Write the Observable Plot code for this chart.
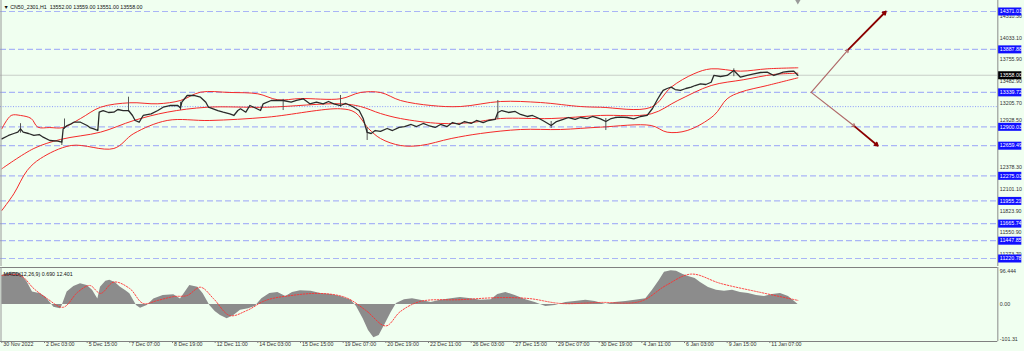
<!DOCTYPE html>
<html><head><meta charset="utf-8">
<script src="https://cdn.jsdelivr.net/npm/d3@7"></script>
<script src="https://cdn.jsdelivr.net/npm/@observablehq/plot@0.6"></script>
<style>
html,body{margin:0;padding:0;background:#f0fff0;overflow:hidden;width:1024px;height:351px}
#chart svg{display:block}
</style></head><body><div id="chart"></div>
<script>
// ---------- DATA ----------
const headerText = "▼ CN50_2301,H1  13552.00 13559.00 13551.00 13558.00";
const macdTitle = "MACD(12,26,9) 0.690 12.401";
const levelValues = [14371.01, 13887.88, 13339.72, 12900.03, 12659.49, 12275.03, 11955.21, 11665.74, 11447.85, 11220.78];
const dottedLevel = [13157.84];
const bidPrice = [13558.00];
const priceTicks = [14310.30, 14033.10, 13755.90, 13482.90, 13205.70, 12378.30, 12101.10, 11823.90, 11550.90, 11273.70];
const hiddenTick = [12928.50];
const macdTicks = [96.444, 0, -101.31];
const macdTickLabels = ["96.444", "0.00", "-101.31"];
const timeLabels = ["30 Nov 2022","2 Dec 03:00","5 Dec 15:00","7 Dec 07:00","8 Dec 19:00","12 Dec 11:00","14 Dec 03:00","15 Dec 15:00","19 Dec 07:00","20 Dec 19:00","22 Dec 11:00","26 Dec 03:00","27 Dec 15:00","29 Dec 07:00","30 Dec 19:00","4 Jan 11:00","6 Jan 03:00","9 Jan 15:00","11 Jan 07:00"];
const timeBars = [0,32,64,96,128,160,192,224,256,288,320,352,384,416,448,480,512,544,576];
const shiftMarker = [597];

// [bar, close]
const priceTrace = [[0,12747],[5,12790],[9,12815],[12,12832],[14,12875],[16,12832],[20,12815],[24,12790],[28,12802],[31,12768],[36,12726],[42,12717],[45,12704],[46,12875],[49,12917],[52,12939],[54,12959],[59,12959],[64,12917],[66,12891],[69,12875],[72,12853],[73,13087],[76,13108],[80,13083],[84,13087],[87,13121],[91,13108],[95,13108],[98,13045],[100,12981],[103,12959],[106,13045],[112,13066],[117,13108],[121,13150],[126,13172],[132,13172],[134,13140],[135,13214],[139,13300],[144,13300],[149,13278],[153,13214],[155,13150],[162,13108],[166,13087],[171,13066],[174,13045],[177,13108],[179,13130],[183,13087],[186,13172],[189,13150],[194,13108],[196,13194],[202,13236],[207,13236],[211,13236],[217,13214],[221,13236],[226,13258],[231,13194],[236,13214],[241,13194],[245,13223],[249,13194],[254,13172],[258,13198],[263,13159],[268,13108],[271,13006],[274,12828],[277,12815],[280,12853],[284,12841],[289,12879],[293,12853],[298,12892],[302,12904],[307,12930],[311,12904],[316,12943],[320,12917],[325,12892],[329,12930],[334,12904],[338,12955],[343,12930],[347,12968],[352,12943],[356,12981],[361,12955],[365,12981],[370,12994],[372,13083],[375,13108],[380,13083],[385,13096],[389,13058],[394,13032],[398,13045],[403,13006],[407,12968],[412,12917],[416,12968],[421,12994],[425,13019],[430,12994],[434,13019],[439,13006],[443,13032],[449,13002],[453,12968],[457,13006],[460,13019],[464,13023],[469,13019],[474,13002],[479,13032],[484,13045],[488,13134],[492,13258],[494,13313],[496,13364],[499,13389],[502,13406],[505,13376],[509,13364],[513,13389],[517,13406],[520,13427],[524,13449],[528,13440],[532,13469],[534,13555],[539,13542],[544,13555],[549,13619],[554,13533],[559,13555],[564,13576],[569,13593],[574,13597],[579,13555],[583,13580],[586,13597],[590,13606],[594,13610],[597,13558]];
// [bar, high, low]
const wickTrace = [[14,12940,12820],[45,12730,12662],[47,13000,12870],[95,13278,13090],[134,13214,13108],[211,13250,13108],[254,13300,13150],[274,12890,12726],[372,13236,12994],[412,12968,12879],[453,13006,12853],[549,13640,13540]];
// Bollinger bands [bar, value]
const bbUpper = [[0,12875],[7,13045],[14,13045],[22,13006],[27,12896],[36,12891],[46,12891],[59,13006],[74,13150],[96,13207],[117,13194],[134,13236],[149,13342],[171,13338],[192,13321],[207,13245],[224,13261],[254,13258],[269,13338],[284,13338],[299,13236],[322,13172],[344,13159],[374,13223],[404,13210],[434,13159],[449,13150],[487,13150],[502,13406],[519,13576],[532,13640],[554,13610],[574,13640],[597,13653]];
const bbMiddle = [[0,12365],[24,12624],[44,12739],[74,12832],[99,12981],[124,13087],[154,13150],[199,13150],[254,13194],[269,13159],[284,13070],[299,13006],[329,12943],[352,12955],[374,13006],[412,13006],[449,13045],[487,13066],[507,13236],[532,13427],[556,13500],[579,13568],[597,13584]];
const bbLower = [[0,11833],[9,12046],[19,12343],[29,12496],[52,12662],[84,12624],[99,12815],[124,12981],[156,12981],[199,13023],[254,13130],[265,13083],[275,12879],[284,12751],[299,12662],[314,12662],[337,12751],[359,12815],[389,12866],[419,12866],[449,12896],[487,12917],[499,12832],[514,12853],[534,13045],[544,13258],[554,13342],[574,13427],[597,13525]];
// arrows [bar1, price1, bar2, price2, leg]
const arrowSegments = [[607,13339.72,635,13887.88,1],[635,13887.88,663,14371.01,2],[607,13339.72,640,12900.03,1],[640,12900.03,657,12659.49,2]];
// MACD [bar, value]
const macdHist = [[0,84],[7,93],[14,89],[19,65],[23,36],[29,31],[33,21],[37,2],[39,-8],[44,-12],[45,-6],[49,36],[54,52],[59,60],[64,55],[68,41],[72,16],[74,50],[78,67],[81,70],[85,64],[89,50],[93,40],[96,31],[101,-3],[104,-11],[109,-3],[114,16],[121,26],[129,28],[134,16],[138,38],[141,55],[147,50],[151,31],[156,-3],[160,-20],[164,-32],[169,-41],[174,-32],[179,-17],[185,-12],[190,-6],[195,17],[201,32],[207,35],[213,23],[218,35],[224,40],[232,38],[239,32],[247,29],[254,23],[262,12],[266,-6],[271,-41],[275,-75],[279,-96],[283,-90],[287,-61],[292,-23],[296,3],[302,14],[308,17],[314,12],[322,6],[329,12],[337,17],[344,20],[352,17],[359,12],[367,14],[372,29],[378,35],[385,26],[393,14],[400,6],[408,-6],[415,-3],[423,6],[430,9],[438,12],[445,9],[453,0],[460,6],[468,9],[475,12],[483,17],[488,41],[493,69],[497,93],[502,98],[506,96],[511,87],[515,81],[520,75],[524,64],[530,49],[536,41],[542,38],[548,41],[554,35],[560,32],[566,26],[572,23],[578,29],[584,32],[590,23],[597,1]];
const macdSignal = [[0,84],[14,84],[24,46],[34,17],[46,-8],[57,36],[66,55],[74,32],[84,65],[96,46],[106,3],[117,12],[129,23],[139,26],[149,50],[159,16],[171,-32],[184,-17],[198,12],[217,26],[239,32],[258,20],[273,-17],[288,-62],[299,-20],[314,9],[344,14],[374,20],[396,17],[419,3],[449,6],[479,9],[498,55],[517,88],[539,61],[569,35],[597,12]];

// ---------- LAYOUT CONSTANTS ----------
const X_DOMAIN = [-1, 767];
const AXIS_BAR = 747;
const FONT = "Liberation Sans, Arial, sans-serif";
const FS = 5.3;

const main = Plot.plot({
  width: 1024, height: 266,
  marginTop: 2, marginBottom: 3, marginLeft: 0, marginRight: 0,
  x: {domain: X_DOMAIN, axis: null},
  y: {domain: [11157, 14485.8], axis: null},
  style: {background: "transparent", overflow: "visible", fontFamily: FONT},
  marks: [
    Plot.ruleY(levelValues, {x1: -1, x2: AXIS_BAR, stroke: "#a9b5f6", strokeWidth: 1.2, strokeDasharray: "6,3"}),
    Plot.ruleY(dottedLevel, {x1: -1, x2: AXIS_BAR, stroke: "#7f8ffa", strokeWidth: 0.9, strokeDasharray: "1,1.6"}),
    Plot.ruleY(bidPrice, {x1: -1, x2: AXIS_BAR, stroke: "#c8cec8", strokeWidth: 1}),
    Plot.line(bbUpper, {x: d => d[0], y: d => d[1], stroke: "#f52a2a", strokeWidth: 1, curve: "catmull-rom"}),
    Plot.line(bbMiddle, {x: d => d[0], y: d => d[1], stroke: "#f52a2a", strokeWidth: 1, curve: "catmull-rom"}),
    Plot.line(bbLower, {x: d => d[0], y: d => d[1], stroke: "#f52a2a", strokeWidth: 1, curve: "catmull-rom"}),
    Plot.ruleX(wickTrace, {x: d => d[0], y1: d => d[2], y2: d => d[1], stroke: "#555", strokeWidth: 1}),
    Plot.line(priceTrace, {x: d => d[0], y: d => d[1], stroke: "#2a2a2a", strokeWidth: 1.3}),
    Plot.arrow(arrowSegments, {x1: d => d[0], y1: d => d[1], x2: d => d[2], y2: d => d[3],
      stroke: d => d[4] === 1 ? "#b06a6a" : "#8b0000", strokeWidth: d => d[4] === 1 ? 1.2 : 1.8, headLength: 5}),
    Plot.ruleX([-1], {dx: 0.5, stroke: "#9a9a9a", insetTop: -2, insetBottom: -3}),
    Plot.ruleX([AXIS_BAR], {stroke: "#8a8a8a", insetTop: -2, insetBottom: -3}),
    Plot.dot(shiftMarker, {x: d => d, frameAnchor: "top", dy: -1, symbol: "triangle", r: 2, fill: "#9a9a9a", rotate: 180}),
    Plot.text(priceTicks, {x: AXIS_BAR, y: d => d, dx: 2, textAnchor: "start", text: d => d.toFixed(2), fill: "#333", fontSize: FS, fontFamily: FONT}),
    Plot.text(hiddenTick, {x: AXIS_BAR, y: d => d, dx: 2, dy: -4, textAnchor: "start", text: d => d.toFixed(2), fill: "#333", fontSize: FS, fontFamily: FONT}),
    Plot.ruleY(levelValues, {x1: AXIS_BAR + 0.6, x2: 765, stroke: "#1010ff", strokeWidth: 8}),
    Plot.text(levelValues, {x: AXIS_BAR, y: d => d, dx: 2, textAnchor: "start", text: d => d.toFixed(2), fill: "white", fontSize: FS, fontFamily: FONT}),
    Plot.ruleY(bidPrice, {x1: AXIS_BAR + 0.6, x2: 765, stroke: "#000", strokeWidth: 8}),
    Plot.text(bidPrice, {x: AXIS_BAR, y: d => d, dx: 2, textAnchor: "start", text: d => d.toFixed(2), fill: "white", fontSize: FS, fontFamily: FONT}),
    Plot.text([headerText], {frameAnchor: "top-left", dx: 3, dy: 3, textAnchor: "start", fill: "#111", fontSize: FS, fontFamily: FONT})
  ]
});

const macd = Plot.plot({
  width: 1024, height: 85,
  marginTop: 1, marginBottom: 10, marginLeft: 0, marginRight: 0,
  x: {domain: X_DOMAIN, axis: null},
  y: {domain: [-107.1, 107.1], axis: null},
  style: {background: "transparent", overflow: "visible", fontFamily: FONT},
  marks: [
    Plot.areaY(macdHist, {x: d => d[0], y: d => d[1], fill: "#8c8c8c"}),
    Plot.line(macdSignal, {x: d => d[0], y: d => d[1], stroke: "#ff3030", strokeWidth: 0.9, strokeDasharray: "1.5,1.5", curve: "catmull-rom"}),
    Plot.ruleY([107.1], {x1: -1, x2: AXIS_BAR, stroke: "#808080"}),
    Plot.ruleY([-107.1], {x1: -1, x2: AXIS_BAR, stroke: "#808080"}),
    Plot.ruleX([-1], {dx: 0.5, stroke: "#9a9a9a"}),
    Plot.ruleX([AXIS_BAR], {stroke: "#8a8a8a"}),
    Plot.text(macdTicks, {x: AXIS_BAR, y: d => d, dx: 2, textAnchor: "start", text: (d, i) => macdTickLabels[i], fill: "#333", fontSize: FS, fontFamily: FONT}),
    Plot.ruleX(timeBars, {x: d => d, y1: -107.1, y2: -113, stroke: "#808080"}),
    Plot.text(timeBars, {x: d => d, frameAnchor: "bottom", dy: 4.5, dx: 1.5, textAnchor: "start", text: (d, i) => timeLabels[i], fill: "#333", fontSize: FS, fontFamily: FONT}),
    Plot.text([macdTitle], {frameAnchor: "top-left", dx: 3, dy: 4.5, textAnchor: "start", fill: "#111", fontSize: FS, fontFamily: FONT})
  ]
});

const host = document.getElementById("chart");
host.appendChild(main);
host.appendChild(macd);
</script></body></html>
